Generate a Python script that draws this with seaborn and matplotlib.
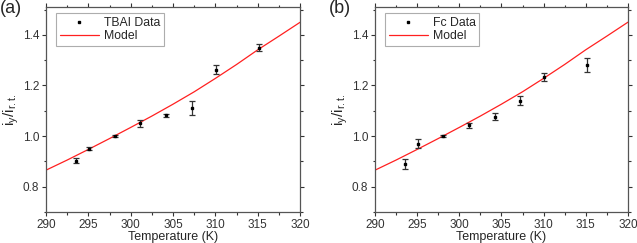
import numpy as np
import pandas as pd
import matplotlib
matplotlib.use("Agg")
import matplotlib.pyplot as plt
from matplotlib.lines import Line2D
import seaborn as sns

# Temperatures of the measurements (K)
temps = [293.6, 295.1, 298.1, 301.1, 304.2, 307.2, 310.1, 315.1]

# Panel (a): TBAI data
tbai_y = [0.903, 0.950, 1.000, 1.050, 1.082, 1.110, 1.262, 1.350]
tbai_err = [0.010, 0.007, 0.003, 0.015, 0.005, 0.028, 0.018, 0.015]

# Panel (b): Fc data
fc_y = [0.890, 0.970, 1.000, 1.042, 1.077, 1.140, 1.233, 1.282]
fc_err = [0.020, 0.017, 0.003, 0.010, 0.013, 0.018, 0.015, 0.028]

# Model curve
model_t = [290, 292.5, 295, 297.5, 300, 302.5, 305, 307.5, 310, 312.5, 315, 317.5, 320]
model_y = [0.865, 0.905, 0.947, 0.990, 1.034, 1.079, 1.126, 1.175, 1.228, 1.283, 1.341, 1.395, 1.450]

model_df = pd.DataFrame({"T": model_t, "y": model_y})

sns.set_style("ticks")
plt.rcParams['font.family'] = ['Liberation Sans', 'DejaVu Sans']
plt.rcParams['mathtext.fontset'] = 'custom'
plt.rcParams['mathtext.rm'] = 'Liberation Sans'
plt.rcParams['mathtext.it'] = 'Liberation Sans'

fig = plt.figure(figsize=(6.37, 2.43), dpi=100)
ax_a = fig.add_axes([0.0722, 0.128, 0.399, 0.843])
ax_b = fig.add_axes([0.5887, 0.128, 0.397, 0.843])

panels = [(ax_a, tbai_y, tbai_err, "TBAI Data", "(a)"),
          (ax_b, fc_y, fc_err, "Fc Data", "(b)")]

for ax, ys, errs, name, tag in panels:
    ax.errorbar(temps, ys, yerr=errs, fmt='s', ms=1.6, color='black',
                ecolor='#333333', elinewidth=0.9, capsize=2, capthick=0.9,
                zorder=3)
    sns.lineplot(data=model_df, x="T", y="y", ax=ax, color='#ff2020',
                 lw=0.9, legend=False)
    ax.set_xlim(290, 320)
    ax.set_ylim(0.7, 1.51)
    ax.set_xticks([290, 295, 300, 305, 310, 315, 320])
    ax.set_xticks(np.arange(292.5, 320, 5), minor=True)
    ax.set_yticks([0.8, 1.0, 1.2, 1.4])
    ax.set_yticks([0.7, 0.9, 1.1, 1.3, 1.5], minor=True)
    ax.tick_params(which='both', direction='out', top=True, right=True,
                   labelsize=8.5, colors='#333333', width=0.8, pad=2)
    ax.tick_params(which='major', length=3)
    ax.tick_params(which='minor', length=1.8)
    for s in ax.spines.values():
        s.set_color('#555555')
        s.set_linewidth(0.9)
    ax.set_xlabel("Temperature (K)", fontsize=9, labelpad=0)
    ax.set_ylabel(r"i$_y$/i$_{r.t.}$", fontsize=11, labelpad=1)
    handles = [Line2D([], [], ls='none', marker='s', ms=1.8, color='black'),
               Line2D([], [], color='#ff2020', lw=0.9)]
    leg = ax.legend(handles, [name, "Model"], loc='upper left', fontsize=8.8,
                    frameon=True, fancybox=False, borderpad=0.3,
                    handlelength=3.2, handletextpad=0.4, labelspacing=0.1,
                    bbox_to_anchor=(0.04, 0.97), borderaxespad=0)
    leg.get_frame().set_edgecolor('#999999')
    leg.get_frame().set_linewidth(0.8)
    fig.text(ax.get_position().x0 - 0.072, 1.0, tag, fontsize=13,
             ha='left', va='top')

fig.savefig("out.png", dpi=100)
